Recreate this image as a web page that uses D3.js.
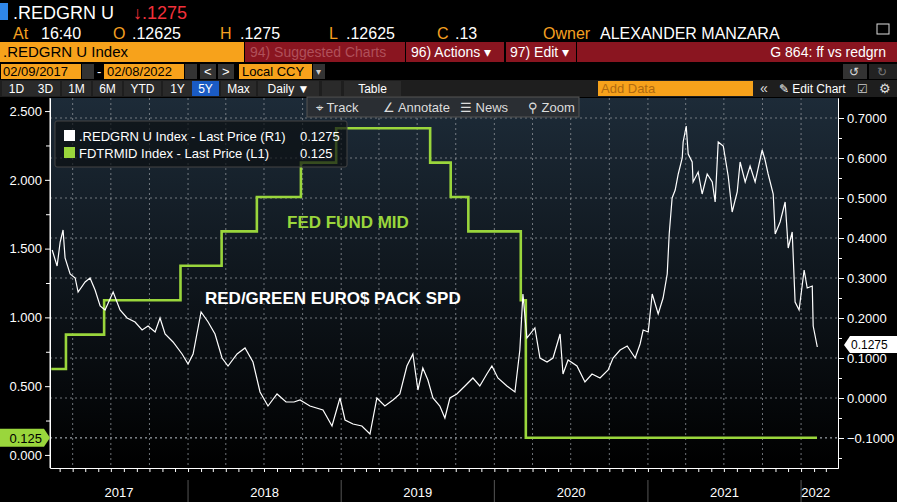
<!DOCTYPE html>
<html><head><meta charset="utf-8">
<script src="https://cdn.jsdelivr.net/npm/d3@7"></script>
<style>body{margin:0;background:#000;overflow:hidden}text{font-family:"Liberation Sans",Arial,sans-serif}</style>
</head><body><svg id="c" width="897" height="502"></svg>
<script>
// Fed funds mid (left axis), step changes: [date, level]
const fedDates = ["2017-02-09","2017-03-16","2017-06-15","2017-12-14","2018-03-22","2018-06-14","2018-09-27","2018-12-20","2019-08-01","2019-09-19","2019-10-31","2020-03-04","2020-03-16","2022-02-08"];
const fedValues = [0.625,0.875,1.125,1.375,1.625,1.875,2.125,2.375,2.125,1.875,1.625,1.125,0.125,0.125];
// Red/green euro$ pack spread (right axis): time in fractional years, value
const spdYears = [2017.113,2017.145,2017.165,2017.184,2017.197,2017.230,2017.263,2017.282,2017.328,2017.360,2017.393,2017.426,2017.458,2017.511,2017.556,2017.602,2017.654,2017.700,2017.739,2017.785,2017.817,2017.850,2017.902,2017.961,2018.000,2018.033,2018.085,2018.131,2018.176,2018.222,2018.261,2018.320,2018.372,2018.424,2018.470,2018.522,2018.581,2018.640,2018.692,2018.731,2018.796,2018.881,2018.940,2018.992,2019.025,2019.077,2019.135,2019.188,2019.233,2019.285,2019.338,2019.383,2019.429,2019.468,2019.501,2019.533,2019.566,2019.599,2019.644,2019.677,2019.710,2019.755,2019.808,2019.860,2019.905,2019.951,2019.984,2020.023,2020.082,2020.134,2020.166,2020.186,2020.212,2020.264,2020.297,2020.343,2020.382,2020.428,2020.447,2020.480,2020.538,2020.590,2020.636,2020.688,2020.741,2020.773,2020.819,2020.865,2020.917,2020.949,2020.969,2021.002,2021.028,2021.067,2021.099,2021.126,2021.139,2021.158,2021.178,2021.198,2021.224,2021.230,2021.250,2021.263,2021.289,2021.295,2021.328,2021.354,2021.387,2021.420,2021.439,2021.459,2021.492,2021.524,2021.550,2021.583,2021.602,2021.635,2021.667,2021.700,2021.746,2021.765,2021.785,2021.818,2021.831,2021.863,2021.896,2021.916,2021.942,2021.961,2021.987,2022.020,2022.040,2022.073,2022.079,2022.106];
const spdValues = [0.37,0.33,0.39,0.42,0.35,0.31,0.30,0.265,0.29,0.30,0.27,0.23,0.22,0.265,0.22,0.20,0.19,0.17,0.18,0.165,0.20,0.16,0.14,0.11,0.085,0.11,0.215,0.19,0.16,0.10,0.08,0.11,0.125,0.09,0.015,-0.02,0.01,-0.01,-0.01,-0.005,-0.02,-0.03,-0.07,0.0,-0.055,-0.065,-0.07,-0.09,0.0,-0.02,-0.005,0.01,0.08,0.11,0.02,0.075,0.045,0.0,-0.02,-0.05,0.0,0.01,0.03,0.05,0.03,0.06,0.08,0.05,0.03,0.015,0.12,0.26,0.15,0.175,0.10,0.09,0.10,0.16,0.06,0.095,0.08,0.04,0.06,0.05,0.07,0.10,0.12,0.13,0.10,0.135,0.17,0.165,0.26,0.21,0.25,0.31,0.41,0.50,0.52,0.56,0.60,0.64,0.68,0.61,0.59,0.54,0.565,0.51,0.56,0.54,0.49,0.64,0.63,0.555,0.465,0.515,0.59,0.54,0.58,0.54,0.62,0.595,0.56,0.51,0.41,0.44,0.49,0.375,0.415,0.24,0.22,0.32,0.275,0.28,0.18,0.1275];
const yearLabels = ["2017","2018","2019","2020","2021","2022"];
const leftTicks = [0,0.5,1,1.5,2,2.5];
const rightTicks = [-0.1,0,0.1,0.2,0.3,0.4,0.5,0.6,0.7];

const svg = d3.select("#c");
const L=50,R=838,T=98,B=468;
const fy = y=>{const yr=Math.floor(y);const s=new Date(yr,0,1),e=new Date(yr+1,0,1);return new Date(+s+(y-yr)*(e-s));};
const x = d3.scaleTime().domain([new Date(2017,1,6),new Date(2022,2,30)]).range([L,R]);
const yL = d3.scaleLinear().domain([-0.095,2.595]).range([B,T]);
const yR = d3.scaleLinear().domain([-0.175,0.75]).range([B,T]);

const G = svg.append("g");
G.append("rect").attr("x",0).attr("y",3).attr("width",8).attr("height",17).attr("fill","#2f86e8");
const t=(x0,y0,s,c,sz,opt={})=>G.append("text").attr("x",x0).attr("y",y0).text(s).attr("fill",c).attr("font-size",sz).attr("text-anchor",opt.a||"start").attr("font-weight",opt.w||"normal");
t(13,19,".REDGRN U","#fff",18); t(133,19,"↓.1275","#f2303a",18);
t(13,39,"At","#f5a021",16); t(41,39,"16:40","#fff",16); t(113,39,"O","#f5a021",16); t(132,39,".12625","#fff",16);
t(220,39,"H","#f5a021",16); t(240,39,".1275","#fff",16); t(329,39,"L","#f5a021",16); t(346,39,".12625","#fff",16);
t(437,39,"C","#f5a021",16); t(455,39,".13","#fff",16); t(543,39,"Owner","#f5a021",16); t(600,39,"ALEXANDER MANZARA","#fff",16);
G.append("rect").attr("x",877).attr("y",24).attr("width",12).attr("height",10).attr("fill","none").attr("stroke","#ddd");
G.append("rect").attr("x",0).attr("y",42).attr("width",244).attr("height",20).attr("fill","#f7a21b");
t(3,57,".REDGRN U Index","#000",15);
G.append("rect").attr("x",245).attr("y",42).attr("width",160).attr("height",20).attr("fill","#8a1520");
t(250,57,"94) Suggested Charts","#b0505a",14);
G.append("rect").attr("x",406).attr("y",42).attr("width",98).attr("height",20).attr("fill","#8a1520");
t(411,57,"96) Actions ▾","#fff",14);
G.append("rect").attr("x",506).attr("y",42).attr("width",70).attr("height",20).attr("fill","#8a1520");
t(510,57,"97) Edit ▾","#fff",14);
G.append("rect").attr("x",577).attr("y",42).attr("width",320).attr("height",20).attr("fill","#8a1520");
t(886,57,"G 864: ff vs redgrn","#fff",14,{a:"end"});
G.append("rect").attr("x",1).attr("y",64).attr("width",80).attr("height",15).attr("fill","#f7a21b");
t(3,76,"02/09/2017","#000",13);
G.append("rect").attr("x",82).attr("y",64).attr("width",12).attr("height",15).attr("fill","#333");
t(97,76,"-","#fff",13);
G.append("rect").attr("x",104).attr("y",64).attr("width",80).attr("height",15).attr("fill","#f7a21b");
t(107,76,"02/08/2022","#000",13);
G.append("rect").attr("x",185).attr("y",64).attr("width",12).attr("height",15).attr("fill","#333");
G.append("rect").attr("x",200).attr("y",64).attr("width",16).attr("height",15).attr("fill","#333");
G.append("rect").attr("x",218).attr("y",64).attr("width",16).attr("height",15).attr("fill","#333");
t(204,76,"<","#fff",13); t(222,76,">","#fff",13);
G.append("rect").attr("x",239).attr("y",64).attr("width",73).attr("height",15).attr("fill","#f7a21b");
t(242,76,"Local CCY","#000",13);
G.append("rect").attr("x",313).attr("y",64).attr("width",12).attr("height",15).attr("fill","#333");
t(316,75,"▾","#ccc",10);
G.append("rect").attr("x",843).attr("y",64).attr("width",24).attr("height",15).attr("fill","#333");
G.append("rect").attr("x",869).attr("y",64).attr("width",28).attr("height",15).attr("fill","#222");
t(849,76,"↺","#ddd",12); t(877,76,"↻","#777",12);
G.append("rect").attr("x",0).attr("y",80).attr("width",897).attr("height",17).attr("fill","#1e1e1e");
const btns=[["1D",2,30],["3D",31,30],["1M",62,30],["6M",93,30],["YTD",124,38],["1Y",163,30],["5Y",192,28],["Max",221,36],["Daily ▼",258,62],["",322,20],["Table",344,58]];
btns.forEach(b=>{G.append("rect").attr("x",b[1]).attr("y",81).attr("width",b[2]-1).attr("height",15).attr("fill",b[0]=="5Y"?"#1a5bc4":"#2a2a2a");t(b[1]+(b[2]-1)/2,93,b[0],"#fff",12,{a:"middle"});});
G.append("rect").attr("x",598).attr("y",81).attr("width",155).attr("height",15).attr("fill","#f7a21b");
t(601,93,"Add Data","#b06a10",13);
t(760,93,"«","#ddd",14); t(779,93,"✎ Edit Chart","#fff",12); t(857,93,"☑","#ccc",12); t(879,93,"⚙","#ddd",13);

const defs=svg.append("defs");
const lg=defs.append("linearGradient").attr("id","bg").attr("x1",0).attr("y1",0).attr("x2",0).attr("y2",1);
lg.append("stop").attr("offset","0%").attr("stop-color","#1d2b38");
lg.append("stop").attr("offset","100%").attr("stop-color","#000");
svg.append("rect").attr("x",L).attr("y",T).attr("width",R-L).attr("height",B-T).attr("fill","url(#bg)");

const qs=d3.timeMonth.every(3).range(x.domain()[0],x.domain()[1]);
svg.append("g").selectAll("line").data(qs).join("line").attr("x1",d=>x(d)).attr("x2",d=>x(d)).attr("y1",T).attr("y2",B)
 .attr("stroke","#8a8f95").attr("stroke-dasharray","2,3").attr("stroke-width",0.8);
svg.append("g").selectAll("line").data(rightTicks).join("line").attr("x1",L).attr("x2",R).attr("y1",d=>yR(d)).attr("y2",d=>yR(d))
 .attr("stroke","#8a8f95").attr("stroke-dasharray","2,3").attr("stroke-width",0.8);
svg.append("line").attr("x1",L).attr("x2",R).attr("y1",yL(0.125)).attr("y2",yL(0.125)).attr("stroke","#8a8f95").attr("stroke-dasharray","2,3");

const tb=svg.append("g");
tb.append("rect").attr("x",307).attr("y",97).attr("width",272).attr("height",20).attr("fill","#2a2e33").attr("stroke","#555");
[["⌖ Track",316],["∠ Annotate",383],["☰ News",460],["⚲ Zoom",528]].forEach(d=>tb.append("text").attr("x",d[1]).attr("y",112).text(d[0]).attr("fill","#ddd").attr("font-size",13));

const axL=svg.append("g").attr("transform",`translate(${L},0)`).call(d3.axisLeft(yL).tickValues(leftTicks).tickFormat(d3.format(".3f")).tickSize(5).tickSizeOuter(0));
const axL2=svg.append("g").attr("transform",`translate(${L},0)`).call(d3.axisLeft(yL).tickValues([0.25,0.75,1.25,1.75,2.25]).tickFormat("").tickSize(4).tickSizeOuter(0));
const axR=svg.append("g").attr("transform",`translate(${R},0)`).call(d3.axisRight(yR).tickValues(rightTicks).tickFormat(d3.format(".4f")).tickSize(6).tickSizeOuter(0));
const axR2=svg.append("g").attr("transform",`translate(${R},0)`).call(d3.axisRight(yR).tickValues([-0.15,-0.05,0.05,0.15,0.25,0.35,0.45,0.55,0.65]).tickFormat("").tickSize(4).tickSizeOuter(0));
const axB=svg.append("g").attr("transform",`translate(0,${B})`).call(d3.axisBottom(x).ticks(d3.timeMonth.every(1)).tickFormat("").tickSize(4).tickSizeOuter(0));
[axL,axL2,axR,axR2,axB].forEach(a=>{a.selectAll("path,line").attr("stroke","#fff");a.selectAll("text").attr("fill","#fff").attr("font-size",13);});
axL.select(".domain").attr("d",`M0,${T}V${B}`);
const yrs=yearLabels.map(s=>new Date(+s,0,1));
svg.append("g").selectAll("line").data(yrs.slice(1)).join("line").attr("x1",d=>x(d)).attr("x2",d=>x(d)).attr("y1",B+12).attr("y2",502).attr("stroke","#555");
svg.append("g").selectAll("text").data(yearLabels).join("text")
 .attr("x",(d,i)=>{const a=Math.max(x(yrs[i]),L),b=i<5?x(yrs[i+1]):R;return i==5?x(new Date(2022,1,5)):(a+b)/2;})
 .attr("y",497).attr("text-anchor","middle").attr("fill","#fff").attr("font-size",13).text(d=>d);

const fed=fedDates.map((d,i)=>[new Date(d),fedValues[i]]);
svg.append("path").datum(fed).attr("fill","none").attr("stroke","#9ad63c").attr("stroke-width",2.6)
 .attr("d",d3.line().x(d=>x(d[0])).y(d=>yL(d[1])).curve(d3.curveStepAfter));
const spd=spdYears.map((d,i)=>[fy(d),spdValues[i]]);
svg.append("path").datum(spd).attr("fill","none").attr("stroke","#fff").attr("stroke-width",1.2)
 .attr("d",d3.line().x(d=>x(d[0])).y(d=>yR(d[1])));

const lgd=svg.append("g");
lgd.append("rect").attr("x",55).attr("y",121).attr("width",292).attr("height",46).attr("fill","#0b0f12").attr("fill-opacity",0.7).attr("stroke","#444").attr("rx",2);
lgd.append("rect").attr("x",64).attr("y",130).attr("width",11).attr("height",11).attr("fill","#fff");
lgd.append("rect").attr("x",64).attr("y",147).attr("width",11).attr("height",11).attr("fill","#9ad63c");
lgd.append("text").attr("x",79).attr("y",141).attr("fill","#fff").attr("font-size",13).text(".REDGRN U Index - Last Price (R1)");
lgd.append("text").attr("x",300).attr("y",141).attr("fill","#fff").attr("font-size",13).text("0.1275");
lgd.append("text").attr("x",79).attr("y",158).attr("fill","#fff").attr("font-size",13).text("FDTRMID Index - Last Price (L1)");
lgd.append("text").attr("x",300).attr("y",158).attr("fill","#fff").attr("font-size",13).text("0.125");

svg.append("text").attr("x",287).attr("y",228).text("FED FUND MID").attr("fill","#9ad63c").attr("font-size",17).attr("font-weight","bold");
svg.append("text").attr("x",205).attr("y",304).text("RED/GREEN EURO$ PACK SPD").attr("fill","#fff").attr("font-size",17).attr("font-weight","bold");

svg.append("path").attr("d",`M0,${yL(0.125)-9}H44L50,${yL(0.125)}L44,${yL(0.125)+9}H0Z`).attr("fill","#9ad63c");
svg.append("text").attr("x",42).attr("y",yL(0.125)+5).attr("text-anchor","end").text("0.125").attr("fill","#000").attr("font-size",13);
const ty=yR(0.1275)-2;
svg.append("path").attr("d",`M${R+6},${ty}L${R+12},${ty-9}H897V${ty+8}H${R+12}Z`).attr("fill","#fff");
svg.append("text").attr("x",R+13).attr("y",ty+4).text("0.1275").attr("fill","#000").attr("font-size",12);
</script></body></html>
